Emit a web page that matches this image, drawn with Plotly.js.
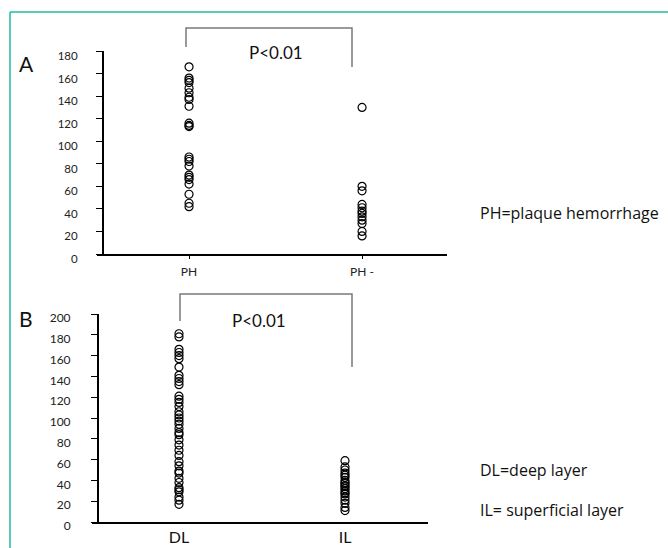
<!DOCTYPE html>
<html>
<head>
<meta charset="utf-8">
<script src="https://cdn.plot.ly/plotly-3.0.1.min.js"></script>
<style>html,body{margin:0;padding:0;background:#fff;}#chart{width:668px;height:548px;}</style>
</head>
<body>
<div id="chart"></div>
<script>
// ---- Data ----
const catsA = ['PH', 'PH -'];
const phValues = [166, 156, 154, 152, 147, 143, 139, 137, 131, 116, 114, 113, 86, 84, 82, 78, 70, 68, 66, 62, 53, 45, 42];
const phNegValues = [130, 60, 56, 44, 41, 38, 36, 33, 30, 27, 20, 16];
const ticksA = [0, 20, 40, 60, 80, 100, 120, 140, 160, 180];

const catsB = ['DL', 'IL'];
const dlValues = [181, 178, 166, 163, 160, 157, 149, 141, 138, 135, 132, 121, 118, 115, 111, 106, 103, 100, 97, 94, 90, 86, 84, 79, 74, 69, 64, 58, 54, 49, 47, 42, 38, 33, 31, 29, 24, 21, 17];
const ilValues = [59, 53, 50, 47, 45, 43, 40, 38, 37, 35, 34, 32, 30, 28, 27, 24, 21, 18, 14, 11];
const ticksB = [0, 20, 40, 60, 80, 100, 120, 140, 160, 180, 200];

const pText = 'P<0.01';
const legendNotes = ['PH=plaque hemorrhage', 'DL=deep layer', 'IL= superficial layer'];

// ---- Helpers ----
const W = 668, H = 548;
const px = x => x / W;
const py = y => 1 - y / H;
const FONT = 'Lato, "Open Sans", sans-serif';
const NOTEFONT = '"Open Sans", Lato, sans-serif';

const marker = {symbol: 'circle-open', size: 8, color: '#000', line: {width: 1.2, color: '#000'}};

function pts(cat, vals, xa, ya) {
  return {type: 'scatter', mode: 'markers', x: vals.map(() => cat), y: vals,
    xaxis: xa, yaxis: ya, marker: marker, hoverinfo: 'y', showlegend: false, cliponaxis: false};
}

const data = [
  pts(catsA[0], phValues, 'x', 'y'),
  pts(catsA[1], phNegValues, 'x', 'y'),
  pts(catsB[0], dlValues, 'x2', 'y2'),
  pts(catsB[1], ilValues, 'x2', 'y2')
];

const axisCommon = {showgrid: false, zeroline: false, showline: true, linecolor: '#000', linewidth: 1.5,
  ticks: 'outside', tickcolor: '#000', fixedrange: true};

const layout = {
  width: W, height: H,
  margin: {l: 0, r: 0, t: 0, b: 0},
  paper_bgcolor: '#fff', plot_bgcolor: 'rgba(0,0,0,0)',
  showlegend: false,
  xaxis: Object.assign({}, axisCommon, {
    domain: [px(97), px(447)], anchor: 'y', type: 'category',
    categoryorder: 'array', categoryarray: catsA,
    range: [-0.532, 1.491], ticklen: 3, tickwidth: 1,
    tickfont: {family: FONT, size: 12, color: '#222'}, ticklabelstandoff: 3
  }),
  yaxis: Object.assign({}, axisCommon, {
    domain: [py(254), py(51)], anchor: 'free', position: px(102),
    range: [0, 180], tickmode: 'array', tickvals: ticksA, ticklen: 6, tickwidth: 1,
    tickfont: {family: FONT, size: 11.5, color: '#222'}, ticklabelstandoff: 16, ticklabelshift: 5
  }),
  xaxis2: Object.assign({}, axisCommon, {
    domain: [px(92), px(428)], anchor: 'y2', type: 'category',
    categoryorder: 'array', categoryarray: catsB,
    range: [-0.524, 1.5], ticklen: 0,
    tickfont: {family: FONT, size: 16, color: '#111'}, ticklabelstandoff: 0
  }),
  yaxis2: Object.assign({}, axisCommon, {
    domain: [py(522), py(314)], anchor: 'free', position: px(97),
    range: [0, 200], tickmode: 'array', tickvals: ticksB, ticklen: 6, tickwidth: 1,
    tickfont: {family: FONT, size: 12, color: '#222'}, ticklabelstandoff: 18, ticklabelshift: 4
  }),
  shapes: [
    // frame
    {type: 'line', xref: 'paper', yref: 'paper', x0: px(10), x1: px(668), y0: py(12), y1: py(12), line: {color: '#1dbd9f', width: 1.5}},
    {type: 'line', xref: 'paper', yref: 'paper', x0: px(10), x1: px(10), y0: py(12), y1: py(548), line: {color: '#1dbd9f', width: 1.5}},
    // bracket A
    {type: 'path', xref: 'paper', yref: 'paper',
      path: `M ${px(186)} ${py(47)} L ${px(186)} ${py(28)} L ${px(352)} ${py(28)} L ${px(352)} ${py(67)}`,
      line: {color: '#7a7a7a', width: 1.5}},
    // bracket B
    {type: 'path', xref: 'paper', yref: 'paper',
      path: `M ${px(180)} ${py(321)} L ${px(180)} ${py(294)} L ${px(352)} ${py(294)} L ${px(352)} ${py(367)}`,
      line: {color: '#7a7a7a', width: 1.5}}
  ],
  annotations: [
    {text: 'A', xref: 'paper', yref: 'paper', x: px(17), y: py(63), xanchor: 'left', yanchor: 'middle', showarrow: false, font: {family: FONT, size: 21, color: '#111'}},
    {text: 'B', xref: 'paper', yref: 'paper', x: px(17), y: py(318), xanchor: 'left', yanchor: 'middle', showarrow: false, font: {family: FONT, size: 21, color: '#111'}},
    {text: pText, xref: 'paper', yref: 'paper', x: px(276), y: py(53), xanchor: 'center', yanchor: 'middle', showarrow: false, font: {family: FONT, size: 17, color: '#111'}},
    {text: pText, xref: 'paper', yref: 'paper', x: px(259), y: py(320), xanchor: 'center', yanchor: 'middle', showarrow: false, font: {family: FONT, size: 17, color: '#111'}},
    {text: legendNotes[0], xref: 'paper', yref: 'paper', x: px(478), y: py(213), xanchor: 'left', yanchor: 'middle', showarrow: false, font: {family: NOTEFONT, size: 16, color: '#111'}},
    {text: legendNotes[1], xref: 'paper', yref: 'paper', x: px(478), y: py(470), xanchor: 'left', yanchor: 'middle', showarrow: false, font: {family: NOTEFONT, size: 16, color: '#111'}},
    {text: legendNotes[2], xref: 'paper', yref: 'paper', x: px(478), y: py(510), xanchor: 'left', yanchor: 'middle', showarrow: false, font: {family: NOTEFONT, size: 16, color: '#111'}}
  ]
};

Plotly.newPlot('chart', data, layout, {displayModeBar: false, staticPlot: true});
</script>
</body>
</html>
